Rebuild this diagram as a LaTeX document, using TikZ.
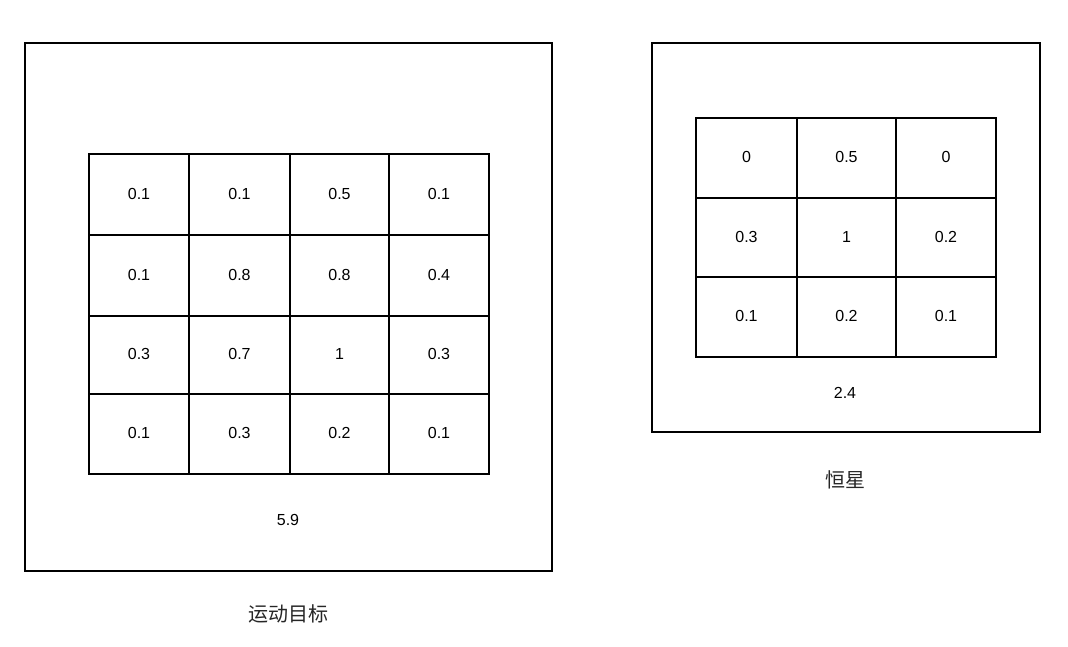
\documentclass[tikz,border=0pt]{standalone}
\usepackage{fontspec}
\setmainfont{Liberation Sans}
\newfontfamily\cjk{Noto Sans CJK SC}
\begin{document}
\begin{tikzpicture}[x=1pt,y=-1pt,
  outerbox/.style={draw=black,line width=1.3pt},
  cell/.style={draw=black,line width=1.6pt,minimum width=100pt,minimum height=80pt,anchor=center,inner sep=0pt,text depth=2pt,font=\fontsize{16}{16}\selectfont},
  numlabel/.style={font=\fontsize{16}{16}\selectfont},
  cnlabel/.style={font=\cjk\fontsize{20}{20}\selectfont,text=black!85}]
\useasboundingbox (0,0) rectangle (1068,647);
% left
\draw[outerbox] (25,43) rectangle (552,571);
\node[cell,minimum width=100pt,minimum height=81pt] (l11) at (139,194.5) {0.1};
\node[cell,minimum width=101pt,minimum height=81pt] (l12) at (239.5,194.5) {0.1};
\node[cell,minimum width=99pt,minimum height=81pt] (l13) at (339.5,194.5) {0.5};
\node[cell,minimum width=100pt,minimum height=81pt] (l14) at (439,194.5) {0.1};
\node[cell,minimum width=100pt,minimum height=81pt] (l21) at (139,275.5) {0.1};
\node[cell,minimum width=101pt,minimum height=81pt] (l22) at (239.5,275.5) {0.8};
\node[cell,minimum width=99pt,minimum height=81pt] (l23) at (339.5,275.5) {0.8};
\node[cell,minimum width=100pt,minimum height=81pt] (l24) at (439,275.5) {0.4};
\node[cell,minimum width=100pt,minimum height=78pt] (l31) at (139,355) {0.3};
\node[cell,minimum width=101pt,minimum height=78pt] (l32) at (239.5,355) {0.7};
\node[cell,minimum width=99pt,minimum height=78pt] (l33) at (339.5,355) {1};
\node[cell,minimum width=100pt,minimum height=78pt] (l34) at (439,355) {0.3};
\node[cell,minimum width=100pt,minimum height=80pt] (l41) at (139,434) {0.1};
\node[cell,minimum width=101pt,minimum height=80pt] (l42) at (239.5,434) {0.3};
\node[cell,minimum width=99pt,minimum height=80pt] (l43) at (339.5,434) {0.2};
\node[cell,minimum width=100pt,minimum height=80pt] (l44) at (439,434) {0.1};
\node[numlabel] (lsum) at (288,520) {5.9};
\node[cnlabel] (lname) at (288,614) {运动目标};
% right
\draw[outerbox] (652,43) rectangle (1040,432);
\node[cell,minimum width=101pt,minimum height=80pt] (r11) at (746.5,158) {0};
\node[cell,minimum width=99pt,minimum height=80pt] (r12) at (846.5,158) {0.5};
\node[cell,minimum width=100pt,minimum height=80pt] (r13) at (946,158) {0};
\node[cell,minimum width=101pt,minimum height=79pt] (r21) at (746.5,237.5) {0.3};
\node[cell,minimum width=99pt,minimum height=79pt] (r22) at (846.5,237.5) {1};
\node[cell,minimum width=100pt,minimum height=79pt] (r23) at (946,237.5) {0.2};
\node[cell,minimum width=101pt,minimum height=80pt] (r31) at (746.5,317) {0.1};
\node[cell,minimum width=99pt,minimum height=80pt] (r32) at (846.5,317) {0.2};
\node[cell,minimum width=100pt,minimum height=80pt] (r33) at (946,317) {0.1};
\node[numlabel] (rsum) at (845,393) {2.4};
\node[cnlabel] (rname) at (845,480) {恒星};
\end{tikzpicture}
\end{document}
